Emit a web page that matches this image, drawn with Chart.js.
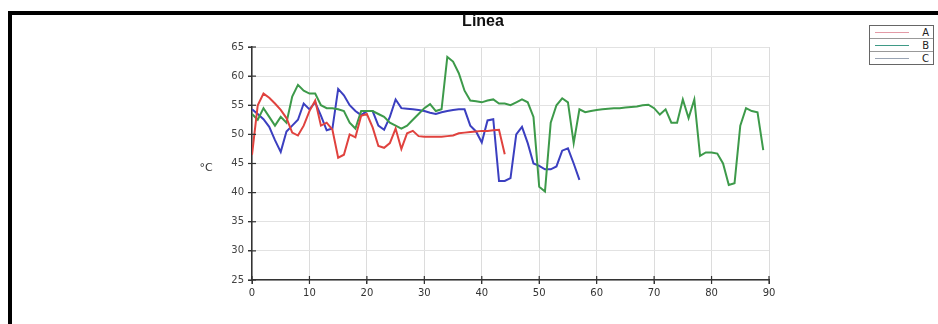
<!DOCTYPE html>
<html>
<head>
<meta charset="utf-8">
<title>Línea</title>
<script src="https://cdn.jsdelivr.net/npm/chart.js@4/dist/chart.umd.min.js"></script>
<style>
  html, body { margin: 0; padding: 0; background: #fff; }
  #wrap { position: relative; width: 938px; height: 324px; overflow: hidden; }
  #frame { position: absolute; left: 8px; top: 11px; width: 940px; height: 320px;
           border-top: 4px solid #000; border-left: 4px solid #000; }
  #chart { position: absolute; left: 0; top: 0; }
  #legend { position: absolute; left: 869px; top: 25px; width: 63px;
            border: 1px solid #666; background: #fff;
            font: 10px "DejaVu Sans", sans-serif; color: #222; }
  #legend .row { height: 12px; display: flex; align-items: center; border-top: 1px solid #999; }
  #legend .row:first-child { border-top: none; }
  #legend .swatch { width: 34px; height: 0; margin-left: 5px; border-top: 1.5px solid; }
  #legend .lbl { margin-left: auto; margin-right: 4px; }
</style>
</head>
<body>
<div id="wrap">
  <div id="frame"></div>
  <canvas id="chart" width="938" height="324"></canvas>
  <div id="legend"></div>
</div>
<script>
// temperature readings, one per step on the x axis
const seriesNames = ["A", "B", "C"];
const seriesColors = ["#e0423e", "#3d9a4a", "#3b3fc0"];
const legendColors = ["#e39aa6", "#3f9a86", "#9aa4b4"];

const valuesA = [46.5, 55, 57, 56.3, 55.3, 54.2, 52.8, 50.3, 49.8, 51.5,
  54, 55.8, 51.5, 52, 50.8, 46, 46.5, 50, 49.5, 53.2,
  53.5, 51.2, 48, 47.7, 48.5, 51, 47.5, 50.2, 50.6, 49.7,
  49.6, 49.6, 49.6, 49.6, 49.7, 49.8, 50.2, 50.3, 50.4, 50.5,
  50.6, 50.6, 50.7, 50.8, 46.6];

const valuesB = [53.5, 52.5, 54.5, 53, 51.5, 53, 52, 56.5, 58.5, 57.5,
  57, 57, 55, 54.5, 54.5, 54.3, 54, 52, 51, 54,
  54, 54, 53.5, 53, 52, 51.5, 51, 51.5, 52.5, 53.5,
  54.5, 55.2, 54, 54.3, 63.3, 62.5, 60.5, 57.5, 55.8, 55.7,
  55.5, 55.8, 56, 55.3, 55.3, 55, 55.5, 56, 55.5, 53,
  41, 40.2, 52, 55, 56.2, 55.5, 48.5, 54.3, 53.8, 54,
  54.2, 54.3, 54.4, 54.5, 54.5, 54.6, 54.7, 54.8, 55, 55.1,
  54.5, 53.4, 54.3, 52, 52, 56, 52.8, 56, 46.3, 46.9,
  46.9, 46.7, 45, 41.3, 41.6, 51.5, 54.5, 54, 53.8, 47.3];

const valuesC = [54.3, 53.5, 52.6, 51.3, 49, 47, 50.5, 51.5, 52.5, 55.3,
  54.3, 55.5, 53.2, 50.7, 51, 57.8, 56.7, 55, 54, 53.3,
  54, 54, 51.5, 50.8, 53, 56, 54.5, 54.4, 54.3, 54.2,
  54, 53.7, 53.5, 53.8, 54, 54.2, 54.3, 54.3, 51.5, 50.5,
  48.6, 52.4, 52.6, 42, 42, 42.5, 50, 51.3, 48.5, 45,
  44.6, 44, 44, 44.5, 47.2, 47.6, 45, 42.2];

const xTicks = [0, 10, 20, 30, 40, 50, 60, 70, 80, 90];
const yTicks = [25, 30, 35, 40, 45, 50, 55, 60, 65];

const toPoints = vals => vals.map((v, i) => ({ x: i, y: v }));

// title, unit label and the short dark tick marks across both axes
const decorations = {
  id: "decorations",
  afterDraw(chart) {
    const ctx = chart.ctx;
    const xs = chart.scales.x, ys = chart.scales.y;
    ctx.save();
    ctx.fillStyle = "#111";
    ctx.font = 'bold 16px "Liberation Sans", Arial, sans-serif';
    ctx.textAlign = "center";
    ctx.textBaseline = "middle";
    ctx.fillText("Línea", 483, 22);
    ctx.font = '11px "DejaVu Sans", sans-serif';
    ctx.fillStyle = "#333";
    ctx.fillText("°C", 206, 168);

    ctx.strokeStyle = "#333";
    ctx.lineWidth = 1.2;
    const y0 = ys.getPixelForValue(25);
    xTicks.forEach(t => {
      const px = xs.getPixelForValue(t);
      ctx.beginPath();
      ctx.moveTo(px, y0 - 4);
      ctx.lineTo(px, y0 + 4);
      ctx.stroke();
    });
    const x0 = xs.getPixelForValue(0);
    yTicks.forEach(t => {
      const py = ys.getPixelForValue(t);
      ctx.beginPath();
      ctx.moveTo(x0 - 4, py);
      ctx.lineTo(x0 + 4, py);
      ctx.stroke();
    });
    ctx.restore();
  }
};

const allValues = [valuesA, valuesB, valuesC];

new Chart(document.getElementById("chart"), {
  type: "line",
  data: {
    datasets: allValues.map((vals, i) => ({
      label: seriesNames[i],
      data: toPoints(vals),
      borderColor: seriesColors[i],
      borderWidth: 2,
      pointRadius: 0,
      tension: 0,
      fill: false
    }))
  },
  options: {
    responsive: false,
    animation: false,
    layout: { padding: { left: 0, right: 169, top: 47, bottom: 0 } },
    plugins: {
      legend: { display: false },
      title: { display: false },
      tooltip: { enabled: false }
    },
    scales: {
      x: {
        type: "linear",
        min: 0,
        max: 90,
        afterBuildTicks: scale => { scale.ticks = xTicks.map(v => ({ value: v })); },
        afterFit: scale => { scale.height = 44; },
        grid: { color: "#dcdcdc", tickLength: 4, tickColor: "#333" },
        border: { color: "#333", width: 1.5 },
        ticks: { color: "#333", padding: 3, maxRotation: 0,
                 font: { family: "DejaVu Sans", size: 10 } }
      },
      y: {
        min: 25,
        max: 65,
        afterBuildTicks: scale => { scale.ticks = yTicks.map(v => ({ value: v })); },
        afterFit: scale => { scale.width = 252; },
        grid: { color: "#e2e2e2", tickLength: 4, tickColor: "#333" },
        border: { color: "#333", width: 1.5 },
        ticks: { color: "#444", padding: 4,
                 font: { family: "DejaVu Sans", size: 10 } }
      }
    }
  },
  plugins: [decorations]
});

// boxed legend in the top right corner
const legendBox = document.getElementById("legend");
seriesNames.forEach((name, i) => {
  const row = document.createElement("div");
  row.className = "row";
  const sw = document.createElement("span");
  sw.className = "swatch";
  sw.style.borderTopColor = legendColors[i];
  const lbl = document.createElement("span");
  lbl.className = "lbl";
  lbl.textContent = name;
  row.appendChild(sw);
  row.appendChild(lbl);
  legendBox.appendChild(row);
});
</script>
</body>
</html>
